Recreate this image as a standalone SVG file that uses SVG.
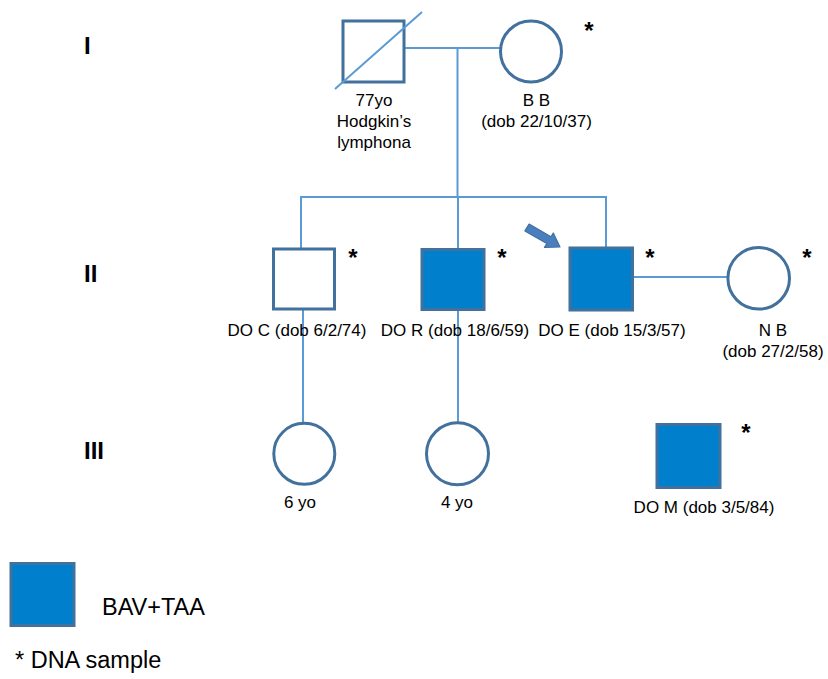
<svg xmlns="http://www.w3.org/2000/svg" width="828" height="679" viewBox="0 0 828 679">
  <style>
    .lbl { font-family: "Liberation Sans", Arial, sans-serif; font-size: 17px; fill: #000; text-anchor: middle; }
    .gen { font-family: "Liberation Sans", Arial, sans-serif; font-size: 24px; font-weight: bold; fill: #000; }
    .star { font-family: "Liberation Sans", Arial, sans-serif; font-size: 24px; font-weight: bold; fill: #000; text-anchor: middle; }
    .leg { font-family: "Liberation Sans", Arial, sans-serif; font-size: 23.5px; fill: #000; }
    .ind { stroke: #41719C; stroke-width: 3; fill: #fff; }
    .aff { fill: #0080CC; }
    .link { stroke: #5B9BD5; stroke-width: 2; fill: none; }
  </style>
  <rect width="828" height="679" fill="#fff"/>

  <!-- generation labels -->
  <text class="gen" x="84" y="54">I</text>
  <text class="gen" x="84" y="282">II</text>
  <text class="gen" x="84" y="459">III</text>

  <!-- lines of descent and marriage -->
  <g id="connectors">
    <line class="link" x1="404" y1="48" x2="500" y2="48"/>
    <line class="link" x1="457.5" y1="48" x2="457.5" y2="197"/>
    <polyline class="link" points="301,249 301,197 606,197 606,248"/>
    <line class="link" x1="458" y1="197" x2="458" y2="249"/>
    <line class="link" x1="633" y1="277" x2="727" y2="277"/>
    <line class="link" x1="303" y1="310" x2="303" y2="423"/>
    <line class="link" x1="458" y1="310" x2="458" y2="423"/>
  </g>

  <!-- generation I -->
  <g id="grandfather">
    <rect class="ind" x="343" y="21" width="61" height="61"/>
    <line class="link" x1="335" y1="89" x2="422" y2="12"/>
    <text class="lbl" x="374" y="106">77yo</text>
    <text class="lbl" x="374" y="127">Hodgkin’s</text>
    <text class="lbl" x="374" y="148">lymphona</text>
  </g>
  <g id="bb">
    <circle class="ind" cx="531" cy="51.5" r="30.5"/>
    <text class="star" x="589" y="39">*</text>
    <text class="lbl" x="536.5" y="106">B B</text>
    <text class="lbl" x="536.5" y="127">(dob 22/10/37)</text>
  </g>

  <!-- generation II -->
  <g id="do-c">
    <rect class="ind" x="273.5" y="249" width="61" height="60"/>
    <text class="star" x="353" y="265.5">*</text>
    <text class="lbl" x="297" y="336">DO C (dob 6/2/74)</text>
  </g>
  <g id="do-r">
    <rect class="ind aff" x="422" y="249.5" width="62" height="60"/>
    <text class="star" x="502" y="265.5">*</text>
    <text class="lbl" x="455" y="336">DO R (dob 18/6/59)</text>
  </g>
  <g id="do-e">
    <rect class="ind aff" x="570" y="248" width="62.5" height="62"/>
    <!-- proband arrow -->
    <polygon points="529.1,224.1 551,236.8 553.3,233 560,247 544.5,247.4 546.8,243.6 524.9,230.9" fill="#4A7FBF" stroke="#41719C" stroke-width="1.2" stroke-linejoin="round"/>
    <text class="star" x="650" y="265.5">*</text>
    <text class="lbl" x="612" y="336">DO E (dob 15/3/57)</text>
  </g>
  <g id="nb">
    <circle class="ind" cx="758.7" cy="278.3" r="30.8"/>
    <text class="star" x="807" y="265.5">*</text>
    <text class="lbl" x="773" y="336">N B</text>
    <text class="lbl" x="773" y="357">(dob 27/2/58)</text>
  </g>

  <!-- generation III -->
  <g id="child-6yo">
    <circle class="ind" cx="304.3" cy="453.8" r="30.5"/>
    <text class="lbl" x="300" y="508">6 yo</text>
  </g>
  <g id="child-4yo">
    <circle class="ind" cx="457.5" cy="453.8" r="31"/>
    <text class="lbl" x="457" y="508">4 yo</text>
  </g>
  <g id="do-m">
    <rect class="ind aff" x="657" y="424.5" width="63" height="63"/>
    <text class="star" x="746" y="440.5">*</text>
    <text class="lbl" x="704" y="513">DO M (dob 3/5/84)</text>
  </g>

  <!-- key -->
  <g id="legend">
    <rect class="ind aff" x="11" y="563.5" width="63" height="62" stroke-width="2"/>
    <text class="leg" x="102" y="615">BAV+TAA</text>
    <text class="leg" x="15" y="668" font-size="25.5">* DNA sample</text>
  </g>
</svg>
